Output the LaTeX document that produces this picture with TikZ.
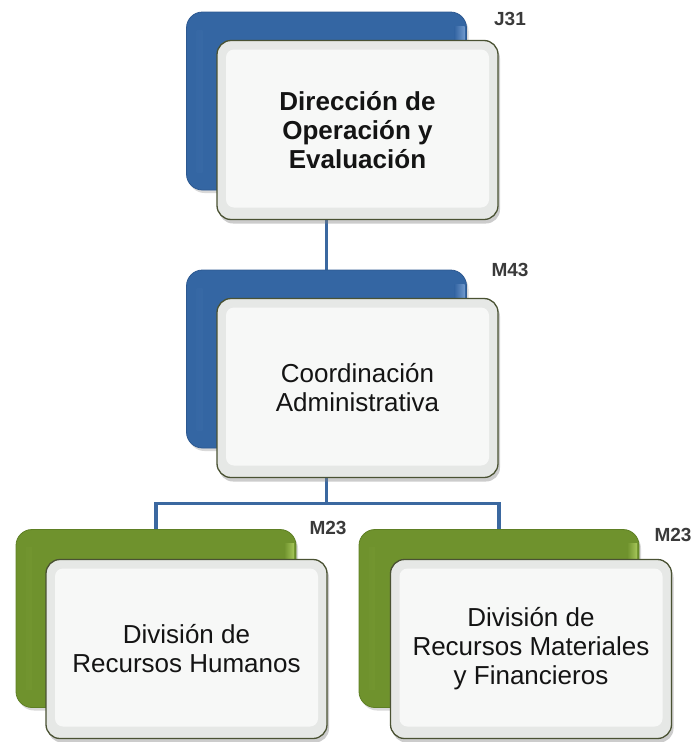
\documentclass[tikz,border=0pt]{standalone}
\usepackage{fontspec}
\setmainfont{Liberation Sans}
\usetikzlibrary{calc,shadows}
\pgfdeclarelayer{background}
\pgfsetlayers{background,main}
\definecolor{bluebk}{HTML}{3466A3}
\definecolor{bluebd}{HTML}{2C5890}
\definecolor{bluehl}{HTML}{6F98CB}
\definecolor{greenbk}{HTML}{6F922D}
\definecolor{greenbd}{HTML}{5E7F24}
\definecolor{greenhl}{HTML}{A6C65A}
\definecolor{frontbd}{HTML}{4A5233}
\definecolor{frontout}{HTML}{E6E8E6}
\definecolor{frontin}{HTML}{F7F8F7}
\definecolor{linkblue}{HTML}{3B68A0}
\definecolor{taggray}{HTML}{3A3A3A}
\tikzset{
  backbase/.style={rounded corners=16pt, minimum width=280pt, minimum height=178pt,
    inner sep=0pt, line width=0.8pt,
    drop shadow={shadow xshift=2pt, shadow yshift=-3pt, opacity=0.3}},
  backblue/.style={backbase, fill=bluebk, draw=bluebd, path picture={
    \shade[sharp corners, left color=bluebk, right color=bluehl]
      ([shift={(10pt,-18pt)}]path picture bounding box.north west) rectangle
      ([shift={(16pt,18pt)}]path picture bounding box.south west);
    \shade[sharp corners, left color=bluebk, right color=bluehl]
      ([shift={(-12pt,-14pt)}]path picture bounding box.north east) rectangle
      ([shift={(-2pt,14pt)}]path picture bounding box.south east);}},
  backgreen/.style={backbase, fill=greenbk, draw=greenbd, path picture={
    \shade[sharp corners, left color=greenbk, right color=greenhl]
      ([shift={(10pt,-18pt)}]path picture bounding box.north west) rectangle
      ([shift={(16pt,18pt)}]path picture bounding box.south west);
    \shade[sharp corners, left color=greenbk, right color=greenhl]
      ([shift={(-12pt,-14pt)}]path picture bounding box.north east) rectangle
      ([shift={(-2pt,14pt)}]path picture bounding box.south east);}},
  frontbox/.style={rounded corners=14pt, minimum width=281pt, minimum height=179pt,
    inner sep=0pt, fill=frontout, draw=frontbd, line width=1.3pt, align=center,
    font=\fontsize{26}{29}\selectfont, text=black!92,
    drop shadow={shadow xshift=2pt, shadow yshift=-4pt, opacity=0.4},
    path picture={
      \fill[frontin, rounded corners=8pt]
        ([shift={(9pt,-9pt)}]path picture bounding box.north west) rectangle
        ([shift={(-9pt,12pt)}]path picture bounding box.south east);}},
  tag/.style={font=\bfseries\fontsize{19}{19}\selectfont, text=taggray, inner sep=0pt},
  link/.style={draw=linkblue, line width=3.2pt}
}
\begin{document}
\begin{tikzpicture}[x=1pt, y=-1pt]
\useasboundingbox (0,0) rectangle (699,742);
% back boxes and front boxes
\node[backblue] (topback) at (326.5,101) {};
\node[frontbox] (top) at (357.5,130) {\bfseries Dirección de\\\bfseries Operación y\\\bfseries Evaluación};
\node[backblue] (midback) at (326.5,359) {};
\node[frontbox] (mid) at (357.5,388) {Coordinación\\Administrativa};
\node[backgreen] (blback) at (156,618.5) {};
\node[frontbox] (bl) at (186.5,649) {División de\\Recursos Humanos};
\node[backgreen] (brback) at (499,618.5) {};
\node[frontbox] (br) at (531,649) {División de\\Recursos Materiales\\y Financieros};
% tags
\node[tag] (j31) at (510,19) {J31};
\node[tag] (m43) at (510,270) {M43};
\node[tag] (m23a) at (328,528) {M23};
\node[tag] (m23b) at (673,535) {M23};
% connectors
\coordinate (bus) at ($(midback.south)+(0,55)$);
\begin{pgfonlayer}{background}
\draw[link] (topback.south) -- (midback.north);
\draw[link] (midback.south) -- (bus);
\draw[link] (bus) -| (blback.north);
\draw[link] (bus) -| (brback.north);
\end{pgfonlayer}
\end{tikzpicture}
\end{document}
